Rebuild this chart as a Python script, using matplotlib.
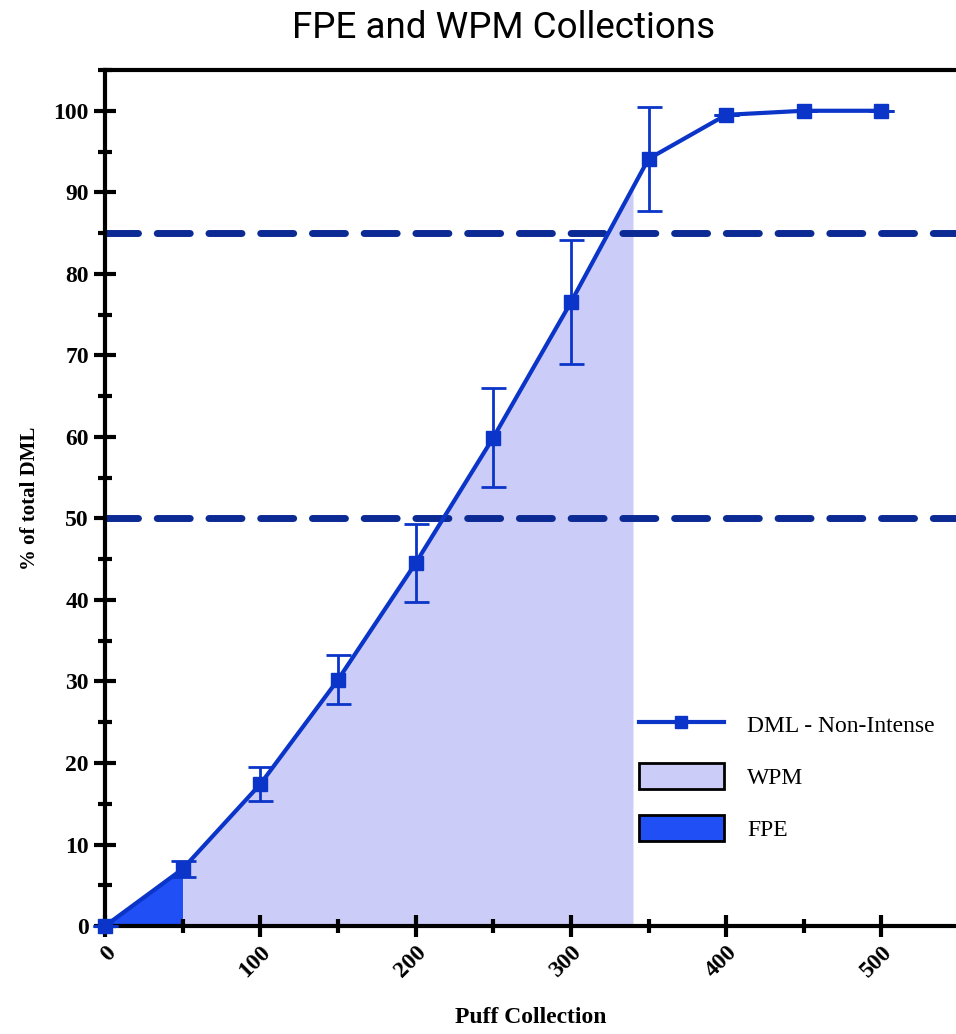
import numpy as np
import matplotlib
matplotlib.use("Agg")
import matplotlib.pyplot as plt
from matplotlib.patches import Patch
from matplotlib.lines import Line2D
from matplotlib.ticker import MultipleLocator

# puff collection vs cumulative % of total DML
puffs = [0, 50, 100, 150, 200, 250, 300, 350, 400, 450, 500]
dml_pct = [0, 7.0, 17.4, 30.2, 44.5, 59.9, 76.5, 94.1, 99.5, 100, 100]
dml_err = [0, 1.0, 2.1, 3.0, 4.8, 6.1, 7.6, 6.4, 0, 0, 0]

thresholds = [50, 85]
fpe_end = 50
wpm_end = 340

line_col = "#0a35c8"
dash_col = "#0b2a94"
wpm_col = "#cbcdf8"
fpe_col = "#1f4ff5"

serif = ["Liberation Serif", "DejaVu Serif"]

fig = plt.figure(figsize=(9.56, 10.34), dpi=100)
ax = fig.add_axes([0.1098, 0.1044, 0.8902, 0.8279])

# shaded regions under the curve
x_fpe = [p for p in puffs if p <= fpe_end]
y_fpe = [v for p, v in zip(puffs, dml_pct) if p <= fpe_end]
ax.fill_between(x_fpe, 0, y_fpe, color=fpe_col, lw=0, zorder=1)

x_wpm = [p for p in puffs if fpe_end <= p < wpm_end] + [wpm_end]
y_wpm = np.interp(x_wpm, puffs, dml_pct)
ax.fill_between(x_wpm, 0, y_wpm, color=wpm_col, lw=0, zorder=1)

for t in thresholds:
    ax.axhline(t, color=dash_col, lw=5, dashes=(4.75, 2.7), dash_capstyle="round", zorder=2)

ax.errorbar(puffs, dml_pct, yerr=dml_err, color=line_col, lw=3, marker="s", ms=10,
            capsize=9, capthick=2, elinewidth=2, zorder=3, clip_on=False)

ax.set_xlim(0, 548)
ax.set_ylim(0, 105)
ax.xaxis.set_major_locator(MultipleLocator(100))
ax.xaxis.set_minor_locator(MultipleLocator(50))
ax.yaxis.set_major_locator(MultipleLocator(10))
ax.yaxis.set_minor_locator(MultipleLocator(5))

for s in ["left", "bottom", "top"]:
    ax.spines[s].set_linewidth(3)
ax.spines["right"].set_visible(False)
ax.tick_params(which="major", direction="inout", length=16, width=3, labelsize=17)
ax.tick_params(which="minor", direction="inout", length=10, width=3)
ax.tick_params(top=False, which="both")

for lab in ax.get_yticklabels():
    lab.set_family(serif)
    lab.set_weight("bold")
for lab in ax.get_xticklabels():
    lab.set_family(serif)
    lab.set_weight("bold")
    lab.set_rotation(45)
    lab.set_ha("right")
    lab.set_va("top")
    lab.set_rotation_mode("anchor")

ax.set_xlabel("Puff Collection", family=serif, weight="bold", fontsize=17, labelpad=18)
ax.set_ylabel("% of total DML", family=serif, weight="bold", fontsize=15, labelpad=10)

handles = [
    Line2D([0], [0], color=line_col, lw=3, marker="s", ms=8),
    Patch(facecolor=wpm_col, edgecolor="black", lw=2),
    Patch(facecolor=fpe_col, edgecolor="black", lw=2),
]
ax.legend(handles, ["DML - Non-Intense", "WPM", "FPE"], loc="lower right",
          bbox_to_anchor=(1.0, 0.075), frameon=False, prop={"family": serif, "size": 17},
          handlelength=3.6, handleheight=1.3, labelspacing=1.1, handletextpad=1.0)

fig.suptitle("FPE and WPM Collections", family="Roboto", fontsize=26.5, x=0.527, y=0.99)

fig.savefig("out.png", dpi=100)
